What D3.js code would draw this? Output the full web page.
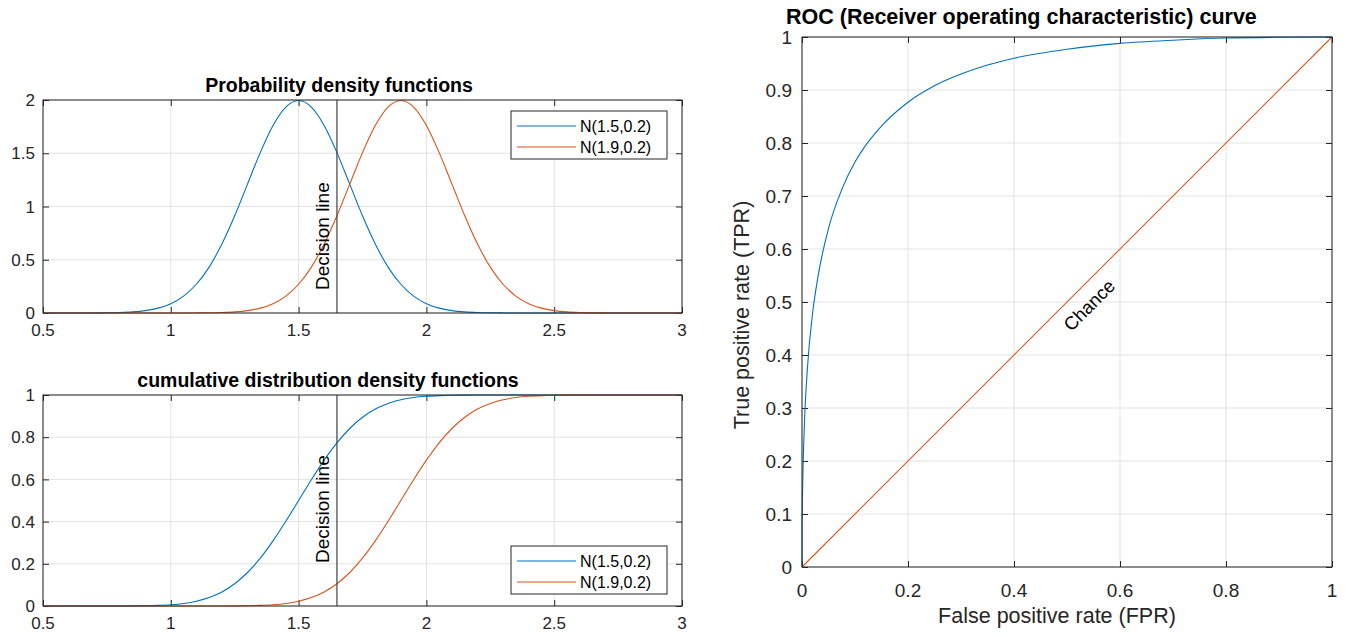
<!DOCTYPE html>
<html>
<head>
<meta charset="UTF-8">
<title>PDF, CDF and ROC</title>
<script src="https://d3js.org/d3.v7.min.js"></script>
<style>
  body { margin: 0; background: #fff; }
  svg { display: block; font-family: "Liberation Sans", Arial, sans-serif; }
  .grid line { stroke: #e3e3e3; stroke-width: 1; }
  .tick-label { fill: #262626; }
  .title { font-weight: bold; fill: #000; }
</style>
</head>
<body>
<svg id="chart" width="1348" height="637"></svg>
<script>
// --- data ---
const xGrid = [0.5, 0.55, 0.6, 0.65, 0.7, 0.75, 0.8, 0.85, 0.9, 0.95,
  1.0, 1.05, 1.1, 1.15, 1.2, 1.25, 1.3, 1.35, 1.4, 1.45,
  1.5, 1.55, 1.6, 1.65, 1.7, 1.75, 1.8, 1.85, 1.9, 1.95,
  2.0, 2.05, 2.1, 2.15, 2.2, 2.25, 2.3, 2.35, 2.4, 2.45,
  2.5, 2.55, 2.6, 2.65, 2.7, 2.75, 2.8, 2.85, 2.9, 2.95, 3.0];

// pdf N(1.5,0.2)
const pdfA = [0, 0, 0, 0, 0.0007, 0.0018, 0.0044, 0.0102, 0.0222, 0.0455,
  0.0876, 0.159, 0.270, 0.431, 0.648, 0.913, 1.210, 1.506, 1.760, 1.933,
  1.995, 1.933, 1.760, 1.506, 1.210, 0.913, 0.648, 0.431, 0.270, 0.159,
  0.0876, 0.0455, 0.0222, 0.0102, 0.0044, 0.0018, 0.0007, 0, 0, 0,
  0, 0, 0, 0, 0, 0, 0, 0, 0, 0, 0];
// pdf N(1.9,0.2)
const pdfB = [0, 0, 0, 0, 0, 0, 0, 0, 0, 0,
  0, 0, 0.0007, 0.0018, 0.0044, 0.0102, 0.0222, 0.0455, 0.0876, 0.159,
  0.270, 0.431, 0.648, 0.913, 1.210, 1.506, 1.760, 1.933, 1.995, 1.933,
  1.760, 1.506, 1.210, 0.913, 0.648, 0.431, 0.270, 0.159, 0.0876, 0.0455,
  0.0222, 0.0102, 0.0044, 0.0018, 0.0007, 0, 0, 0, 0, 0, 0];

// cdf N(1.5,0.2)
const cdfA = [0, 0, 0, 0, 0, 0.0001, 0.0002, 0.0006, 0.0013, 0.0030,
  0.0062, 0.0122, 0.0228, 0.0401, 0.0668, 0.1056, 0.1587, 0.2266, 0.3085, 0.4013,
  0.5, 0.5987, 0.6915, 0.7734, 0.8413, 0.8944, 0.9332, 0.9599, 0.9772, 0.9878,
  0.9938, 0.9970, 0.9987, 0.9994, 0.9998, 0.9999, 1, 1, 1, 1,
  1, 1, 1, 1, 1, 1, 1, 1, 1, 1, 1];
// cdf N(1.9,0.2)
const cdfB = [0, 0, 0, 0, 0, 0, 0, 0, 0, 0,
  0, 0, 0, 0.0001, 0.0002, 0.0006, 0.0013, 0.0030, 0.0062, 0.0122,
  0.0228, 0.0401, 0.0668, 0.1056, 0.1587, 0.2266, 0.3085, 0.4013, 0.5, 0.5987,
  0.6915, 0.7734, 0.8413, 0.8944, 0.9332, 0.9599, 0.9772, 0.9878, 0.9938, 0.9970,
  0.9987, 0.9994, 0.9998, 0.9999, 1, 1, 1, 1, 1, 1, 1];

const decisionX = 1.65;
const seriesNames = ["N(1.5,0.2)", "N(1.9,0.2)"];

// ROC curve
const rocFPR = [0, 0.0002, 0.001, 0.003, 0.005, 0.01, 0.02, 0.03, 0.05, 0.075,
  0.1, 0.125, 0.15, 0.2, 0.25, 0.3, 0.35, 0.4, 0.5, 0.6, 0.7, 0.8, 0.9, 1];
const rocTPR = [0, 0.08, 0.138, 0.225, 0.282, 0.372, 0.479, 0.547, 0.639, 0.712,
  0.764, 0.802, 0.832, 0.877, 0.908, 0.930, 0.947, 0.960, 0.977, 0.988, 0.994, 0.998, 0.9995, 1];
const chanceFPR = [0, 1];
const chanceTPR = [0, 1];

const pdfYTicks = [0, 0.5, 1, 1.5, 2];
const cdfYTicks = [0, 0.2, 0.4, 0.6, 0.8, 1];
const leftXTicks = [0.5, 1, 1.5, 2, 2.5, 3];
const rocXTicks = [0, 0.2, 0.4, 0.6, 0.8, 1];
const rocYTicks = [0, 0.1, 0.2, 0.3, 0.4, 0.5, 0.6, 0.7, 0.8, 0.9, 1];

// --- drawing ---
const BLUE = "#0072BD", ORANGE = "#D95319", AXIS = "#262626";
const svg = d3.select("#chart");
const fmt = d3.format("~g");

function panel(opt) {
  const x = d3.scaleLinear().domain(opt.xDomain).range([opt.left, opt.right]);
  const y = d3.scaleLinear().domain(opt.yDomain).range([opt.bottom, opt.top]);
  const g = svg.append("g");

  // grid
  const grid = g.append("g").attr("class", "grid");
  grid.selectAll("line.gx").data(opt.xTicks).enter().append("line")
    .attr("x1", d => x(d)).attr("x2", d => x(d))
    .attr("y1", opt.top).attr("y2", opt.bottom);
  grid.selectAll("line.gy").data(opt.yTicks).enter().append("line")
    .attr("y1", d => y(d)).attr("y2", d => y(d))
    .attr("x1", opt.left).attr("x2", opt.right);

  // axes (ticks inward, on all four sides like matlab's box)
  const tl = opt.tickLen;
  const ax = [
    d3.axisBottom(x).tickValues(opt.xTicks).tickSizeInner(-tl).tickSizeOuter(0).tickFormat(""),
    d3.axisTop(x).tickValues(opt.xTicks).tickSizeInner(-tl).tickSizeOuter(0).tickFormat(""),
    d3.axisLeft(y).tickValues(opt.yTicks).tickSizeInner(-tl).tickSizeOuter(0).tickFormat(""),
    d3.axisRight(y).tickValues(opt.yTicks).tickSizeInner(-tl).tickSizeOuter(0).tickFormat("")
  ];
  const pos = [`translate(0,${opt.bottom})`, `translate(0,${opt.top})`,
               `translate(${opt.left},0)`, `translate(${opt.right},0)`];
  ax.forEach((a, i) => {
    const ag = g.append("g").attr("transform", pos[i]).call(a);
    ag.select(".domain").remove();
    ag.selectAll("line").attr("stroke", AXIS);
  });

  // tick labels
  g.selectAll("text.xl").data(opt.xTicks).enter().append("text")
    .attr("class", "tick-label")
    .attr("x", d => x(d)).attr("y", opt.bottom + opt.xLabelOff)
    .attr("text-anchor", "middle").attr("font-size", opt.fs).text(fmt);
  g.selectAll("text.yl").data(opt.yTicks).enter().append("text")
    .attr("class", "tick-label")
    .attr("x", opt.left - opt.yLabelGap).attr("y", d => y(d) + opt.fs * 0.36)
    .attr("text-anchor", "end").attr("font-size", opt.fs).text(fmt);

  const lines = g.append("g");

  // box drawn after so it sits on top
  g.append("rect")
    .attr("x", opt.left).attr("y", opt.top)
    .attr("width", opt.right - opt.left).attr("height", opt.bottom - opt.top)
    .attr("fill", "none").attr("stroke", AXIS).attr("stroke-width", 1);

  return { x, y, g, lines };
}

function drawLine(p, xs, ys, color, curve) {
  const line = d3.line()
    .x(d => p.x(d[0])).y(d => p.y(d[1]))
    .curve(curve || d3.curveMonotoneX);
  p.lines.append("path")
    .datum(d3.zip(xs, ys))
    .attr("d", line)
    .attr("fill", "none").attr("stroke", color).attr("stroke-width", 1.1);
}

function legend(p, x0, y0) {
  const w = 156, h = 48;
  const lg = p.g.append("g").attr("transform", `translate(${x0},${y0})`);
  lg.append("rect").attr("width", w).attr("height", h)
    .attr("fill", "#fff").attr("stroke", AXIS).attr("stroke-width", 1);
  [BLUE, ORANGE].forEach((c, i) => {
    const yy = 15 + i * 21;
    lg.append("line").attr("x1", 6).attr("x2", 65).attr("y1", yy).attr("y2", yy)
      .attr("stroke", c).attr("stroke-width", 1.1);
    lg.append("text").attr("x", 69).attr("y", yy + 5.5).attr("font-size", 16)
      .attr("fill", "#000").text(seriesNames[i]);
  });
}

function decision(p, ys) {
  p.lines.append("line")
    .attr("x1", p.x(decisionX)).attr("x2", p.x(decisionX))
    .attr("y1", p.y(p.y.domain()[0])).attr("y2", p.y(p.y.domain()[1]))
    .attr("stroke", "#404040").attr("stroke-width", 1.2);
  p.g.append("text")
    .attr("transform", `translate(${p.x(decisionX) - 8},${ys}) rotate(-90)`)
    .attr("font-size", 19).attr("fill", "#000").text("Decision line");
}

// top-left: pdf
const p1 = panel({ left: 43, right: 682, top: 100, bottom: 313,
  xDomain: [0.5, 3], yDomain: [0, 2], xTicks: leftXTicks, yTicks: pdfYTicks,
  tickLen: 6, fs: 17, xLabelOff: 23, yLabelGap: 8 });
drawLine(p1, xGrid, pdfA, BLUE);
drawLine(p1, xGrid, pdfB, ORANGE);
decision(p1, 290);
legend(p1, 511, 111);
svg.append("text").attr("class", "title").attr("x", 339).attr("y", 92)
  .attr("text-anchor", "middle").attr("font-size", 19.5)
  .text("Probability density functions");

// bottom-left: cdf
const p2 = panel({ left: 43, right: 682, top: 395, bottom: 606,
  xDomain: [0.5, 3], yDomain: [0, 1], xTicks: leftXTicks, yTicks: cdfYTicks,
  tickLen: 6, fs: 17, xLabelOff: 23, yLabelGap: 8 });
drawLine(p2, xGrid, cdfA, BLUE);
drawLine(p2, xGrid, cdfB, ORANGE);
decision(p2, 563);
legend(p2, 511, 546);
svg.append("text").attr("class", "title").attr("x", 328).attr("y", 387)
  .attr("text-anchor", "middle").attr("font-size", 19.5)
  .text("cumulative distribution density functions");

// right: roc
const p3 = panel({ left: 802, right: 1332, top: 37, bottom: 567,
  xDomain: [0, 1], yDomain: [0, 1], xTicks: rocXTicks, yTicks: rocYTicks,
  tickLen: 6, fs: 19, xLabelOff: 30, yLabelGap: 10 });
drawLine(p3, chanceFPR, chanceTPR, ORANGE, d3.curveLinear);
drawLine(p3, rocFPR, rocTPR, BLUE, d3.curveMonotoneX);
p3.g.append("text")
  .attr("transform", `translate(${p3.x(0.508)},${p3.y(0.443)}) rotate(-45)`)
  .attr("font-size", 18.5).attr("fill", "#000").text("Chance");
svg.append("text").attr("class", "title").attr("x", 786).attr("y", 24)
  .attr("font-size", 21.5).text("ROC (Receiver operating characteristic) curve");
svg.append("text").attr("x", 1057).attr("y", 623).attr("text-anchor", "middle")
  .attr("font-size", 21.5).attr("fill", "#262626").text("False positive rate (FPR)");
svg.append("text")
  .attr("transform", `translate(749,315) rotate(-90)`)
  .attr("text-anchor", "middle").attr("font-size", 21.5).attr("fill", "#262626")
  .text("True positive rate (TPR)");
</script>
</body>
</html>
